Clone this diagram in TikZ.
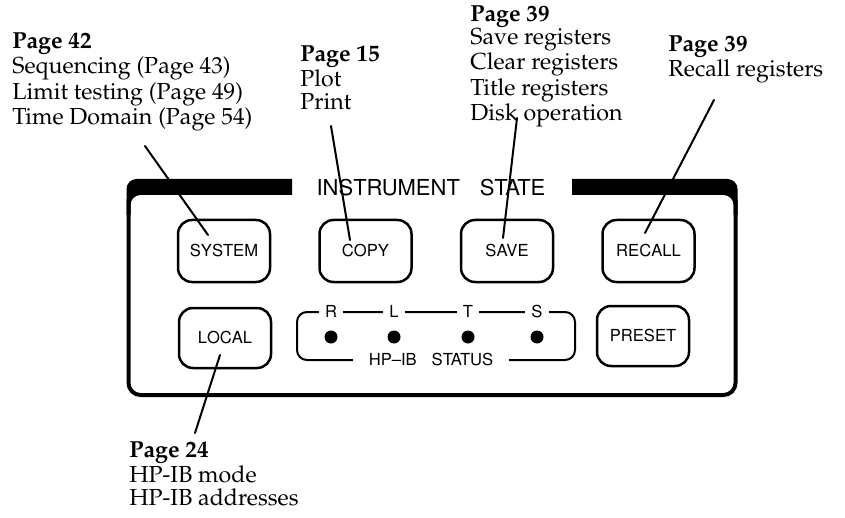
\documentclass[tikz,border=0pt]{standalone}
\usepackage[T1]{fontenc}
\usepackage{mathpazo}
\usepackage{helvet}
\usetikzlibrary{positioning, calc}
\tikzset{
  panel/.style={x=0.5pt, y=-0.5pt, line cap=round, line join=round},
  btn/.style={draw, line width=1.25pt, rounded corners=7pt, minimum width=46pt, minimum height=31pt, inner sep=0pt, font=\sffamily\fontsize{8.3}{10}\selectfont},
  lamp/.style={circle, fill, inner sep=0pt, minimum size=6.5pt},
  lbl/.style={fill=white, inner xsep=3pt, inner ysep=1pt, font=\sffamily\fontsize{8.3}{10}\selectfont},
  pagenote/.style={anchor=north west, align=left, inner sep=0pt, font=\fontsize{11.6}{11.3}\selectfont},
  rim/.style={line width=2pt, rounded corners=6pt},
  lead/.style={line width=1pt},
}
\begin{document}
\begin{tikzpicture}[panel]
\useasboundingbox (0,0) rectangle (845,518);

% front panel
\draw[rim] (128.5,200) -- (128.5,395) -- (735.5,395) -- (735.5,200);
\fill (126.5,215) -- (126.5,189) arc[start angle=180, end angle=90, radius=5pt] -- (292,179) -- (292,195) -- (140.5,195) arc[start angle=90, end angle=180, radius=5pt] -- (130.5,215) -- cycle;
\fill (737.5,215) -- (737.5,189) arc[start angle=0, end angle=90, radius=5pt] -- (572,179) -- (572,195) -- (723.5,195) arc[start angle=90, end angle=0, radius=5pt] -- (733.5,215) -- cycle;
\node[font=\sffamily\fontsize{11}{12}\selectfont] (title) at (431,188) {INSTRUMENT\hspace{0.9em}STATE};

% keys
\node[btn] (system) at (224,251) {SYSTEM};
\node[btn, right=23.5pt of system] (copy) {COPY};
\node[btn, right=23.5pt of copy] (save) {SAVE};
\node[btn, right=23.5pt of save] (recall) {RECALL};
\node[btn, minimum height=30pt] (local) at (225,338) {LOCAL};
\node[btn, minimum height=30pt] (preset) at (643,336) {PRESET};

% HP-IB status lamps
\draw[line width=1pt, rounded corners=5pt] (297,312) rectangle (575,360);
\foreach \name/\x in {R/331, L/394, T/468, S/537} {
  \node[lbl] (tag\name) at (\x,312) {\name};
  \node[lamp] (lamp\name) at (\x,337) {};
}
\node[lbl, inner xsep=8pt] (hpib) at (431,360) {HP--IB\hspace{0.9em}STATUS};

% page references
\node[pagenote] (sysnote) at (12,33) {\textbf{Page 42}\\Sequencing (Page 43)\\Limit testing (Page 49)\\Time Domain (Page 54)};
\node[pagenote] (copynote) at (300,46) {\textbf{Page 15}\\Plot\\Print};
\node[pagenote] (savenote) at (470,6) {\textbf{Page 39}\\Save registers\\Clear registers\\Title registers\\Disk operation};
\node[pagenote] (recallnote) at (668,36) {\textbf{Page 39}\\Recall registers};
\node[pagenote] (localnote) at (129,442) {\textbf{Page 24}\\HP-IB mode\\HP-IB addresses};

% leaders
\coordinate (sysfoot) at (145,146);
\coordinate (systip) at (208,235);
\coordinate (copyfoot) at (331,126);
\coordinate (copytip) at (350,240);
\coordinate (savefoot) at (517,118);
\coordinate (savetip) at (503,238);
\coordinate (recallfoot) at (714,100);
\coordinate (recalltip) at (645,233);
\coordinate (localtip) at (220,355);
\coordinate (localfoot) at (195,433);
\draw[lead] (sysfoot) -- (systip);
\draw[lead] (copyfoot) -- (copytip);
\draw[lead] (savefoot) -- (savetip);
\draw[lead] (recallfoot) -- (recalltip);
\draw[lead] (localtip) -- (localfoot);
\end{tikzpicture}
\end{document}
